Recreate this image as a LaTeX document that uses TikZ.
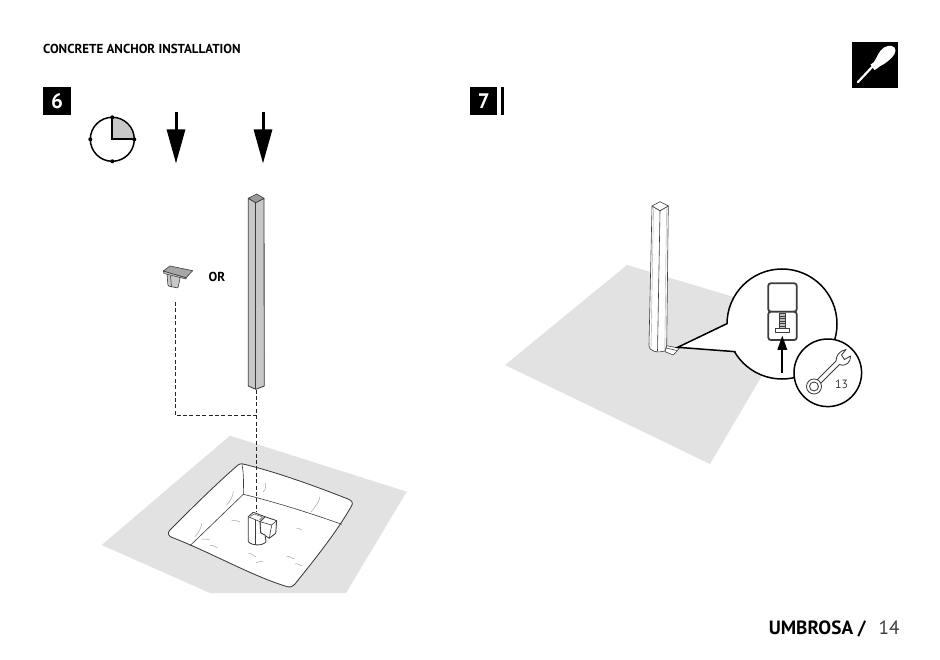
\documentclass[tikz,border=0pt]{standalone}
\usepackage{fontspec}
\setmainfont{PT Sans}
\usetikzlibrary{arrows.meta,positioning}
\definecolor{groundgray}{HTML}{E2E2E2}
\definecolor{postgray}{HTML}{C8C8C8}
\definecolor{linegray}{HTML}{3C3C3C}
\begin{document}
\begin{tikzpicture}[
    x=1pt, y=-1pt,
    stepbox/.style={rectangle, fill=black, text=white, minimum width=27.5pt, minimum height=27.5pt, inner sep=0pt, font=\fontsize{21}{21}\selectfont\bfseries},
    label/.style={inner sep=0pt, font=\fontsize{13}{13}\selectfont\bfseries},
    bigarrow/.style={-{Triangle[length=34pt,width=18pt]}, line width=3pt},
    guide/.style={dashed, dash pattern=on 4pt off 2.4pt, line width=1pt, black!85},
    ground/.style={fill=groundgray, draw=none},
    edge/.style={draw=linegray, line width=0.85pt, line join=round},
    thinedge/.style={draw=linegray, line width=0.6pt, line join=round},
    crack/.style={draw=black!35, line width=0.5pt},
    bubble/.style={circle, draw, fill=white, line width=1.5pt, inner sep=0pt}
]
\useasboundingbox (0,0) rectangle (940,660);
\fill[white] (0,0) rectangle (940,660);

% Header
\node[label, anchor=west] (title) at (43,48.5) {CONCRETE ANCHOR INSTALLATION};
\node[stepbox] (stepsix) at (57,101) {6};
\node[stepbox] (stepseven) at (483.7,101) {7};
\fill (500.7,87.3) rectangle (504.3,115);

% Screwdriver badge
\node[rectangle, fill=black, minimum width=45.7pt, minimum height=45.4pt, inner sep=0pt] (toolbadge) at (875.2,65) {};
\draw[white, line width=2.2pt, line cap=round] (858,82) -- (873,66);
\fill[white] (870.5,64.5) -- (873.5,62.5) .. controls (877,58) and (878.5,51) .. (884,47.5) .. controls (889,44.5) and (895.5,45.5) .. (895.5,50.5) .. controls (895.5,55) and (890,60) .. (884,64) .. controls (881,66) and (878.5,66.5) .. (877,68.5) -- (874.5,70) -- cycle;

% Clock
\coordinate (clock) at (112.3,139.3);
\fill[postgray] (clock) -- ++(0,-21) arc[start angle=-90, end angle=0, radius=21] -- cycle;
\draw[line width=1.5pt] (clock) circle[radius=22];
\draw[line width=2pt] (112.3,117.3) -- (clock) -- (134.3,139.3);
\foreach \tx/\ty in {112.3/117.3, 134.3/139.3, 112.3/161.3, 90.3/139.3}
    \fill (\tx,\ty) circle[radius=2];

% Arrows
\coordinate (arrowatop) at (176,112);
\coordinate (arrowaend) at (176,163.5);
\coordinate (arrowbtop) at (263,112);
\coordinate (arrowbend) at (263,163.5);
\draw[bigarrow] (arrowatop) -- (arrowaend);
\draw[bigarrow] (arrowbtop) -- (arrowbend);

% Step 6 ground and pit
\path[ground] (230,435.7) -- (406.7,491.7) -- (346,593) -- (210,593) -- (101.7,545) -- cycle;
\draw[edge, fill=white] (245,464.5) .. controls (280,473) and (320,488) .. (348,499) .. controls (352,500.5) and (353.5,503) .. (351.5,506) .. controls (335,535) and (310,565) .. (295,584) .. controls (292,587.5) and (289,587.5) .. (285,586) .. controls (250,575) and (210,552) .. (171,537) .. controls (168,535.5) and (167.5,532) .. (170,530) .. controls (190,510) and (215,485) .. (238,465) .. controls (241,463) and (243,464) .. (245,464.5) -- cycle;
\draw[thinedge] (242,464.5) .. controls (244,475) and (243.5,485) .. (243.3,494.3);
\draw[thinedge] (190,545.7) -- (243.3,494.3) .. controls (275,502) and (310,513) .. (341.7,524.3);
\foreach \ax/\ay/\bx/\by in {231.7/520.7/240/521.7, 296.7/528.3/301.7/530, 201.7/539.3/210/540, 210/545.7/217.3/547.7, 248.3/553.3/256/556.7, 256/562.7/263.3/561.7, 286.7/556.7/295/559, 295/564/302.3/566}
    \draw[crack] (\ax,\ay) .. controls +(3,-1.5) and +(-3,0) .. (\bx,\by);
\foreach \ax/\ay/\bx/\by in {226.7/505/233.3/491.7, 195/536.7/201.7/523.3, 263.3/491.7/265.7/482.7, 311/511.7/320/496.7}
    \draw[crack] (\ax,\ay) .. controls +(3,-3) and +(0,4) .. (\bx,\by);

% Step 6 dashed guides
\coordinate (capend) at (175,302);
\coordinate (guidecorner) at (175,415.7);
\coordinate (postend) at (256,389.5);
\coordinate (guidejoin) at (256,415.7);
\coordinate (sleevetop) at (256,512);
\draw[guide] (capend) -- (guidecorner) -- (guidejoin);
\draw[guide] (postend) -- (sleevetop);

% Step 6 anchor sleeve
\draw[edge, fill=white] (260,521.7) -- (265,516.7) -- (276.7,520.7) -- (275.7,533.3) -- (269.3,538.3) -- (260.7,533) -- cycle;
\draw[thinedge] (260,521.7) -- (271.7,525) -- (276.7,520.7);
\draw[thinedge] (271.7,525) -- (269.3,538.3);
\draw[edge, fill=white] (248.3,516.7) -- (253.3,512.3) -- (265,516.7) -- (260,521.7) -- (260.7,533) -- (265,535) -- (266,541.7) .. controls (263,546) and (252,546) .. (248.3,541.7) -- cycle;
\draw[thinedge] (248.3,516.7) -- (260,521.7);
\draw[thinedge] (255,519.5) -- (255,545);
\draw[thinedge, line width=0.4pt] (250.5,516.5) -- (254,514) -- (262.5,517) -- (259.5,520);

% Step 6 post
\draw[edge, fill=postgray] (248.3,198.3) -- (255.7,202.7) -- (264,198.3) -- (264.3,386) -- (255.7,389.3) -- (248.3,386) -- cycle;
\draw[thinedge, fill=black!40] (248.3,198.3) -- (256.7,194) -- (264,198.3) -- (255.7,202.7) -- cycle;
\draw[thinedge] (255.7,202.7) -- (255.7,389.3);

% Step 6 cap
\draw[thinedge, fill=postgray, rounded corners=1pt] (167,274) -- (168,286) -- (178,288) -- (180.5,276) -- cycle;
\draw[thinedge] (170.5,276) -- (171.5,287);
\draw[thinedge, fill=postgray] (163.3,271) -- (164,273.5) -- (186,279) -- (186,277.7) -- cycle;
\draw[thinedge, fill=black!35] (163.3,271) -- (170,266) -- (192.7,270.7) -- (186,277.7) -- cycle;
\node[label, anchor=west] (ortext) at (208.5,276.5) {OR};

% Step 7 ground and post
\path[ground] (627,265) -- (797,316) -- (710,464) -- (505,365) -- cycle;
\draw[thinedge, fill=white] (652,206) -- (660,210.7) -- (668.3,206) -- (666.7,346) -- (665,351) .. controls (658,353) and (649,352) .. (649,345) -- cycle;
\draw[thinedge, fill=white] (652,206) -- (660,201.7) -- (668.3,206) -- (660,210.7) -- cycle;
\draw[thinedge] (660,210.7) -- (657.5,351.5);
\draw[black!35, line width=0.4pt] (653.5,208) -- (651,349);
\draw[black!35, line width=0.4pt] (666.5,208) -- (664.8,350);
\draw[thinedge, fill=white] (666.7,345.7) -- (679.3,348.3) -- (673.3,355) -- (665,351.7) -- cycle;
\draw[thinedge] (666,348) -- (677,350.5);

% Detail bubble
\node[bubble, minimum size=110pt] (detail) at (782,324) {};
\coordinate (tailtip) at (677.7,347.3);
\coordinate (tailupper) at (727.7,323.3);
\coordinate (taillower) at (735.7,351.7);
\fill[white] (tailtip) -- (tailupper) -- (745,335) -- (taillower) -- cycle;
\draw[line width=1.5pt] (tailupper) -- (tailtip) -- (taillower);

% Bracket inside the bubble
\draw[draw=linegray, line width=1.8pt, fill=white, rounded corners=2.5pt] (768.3,283.3) rectangle (796.7,311.7);
\draw[draw=linegray, line width=1.8pt, fill=white, rounded corners=2.5pt] (768.3,311.7) rectangle (796.7,340);
\draw[thinedge, fill=black!25] (779,313.3) rectangle (785.7,328.3);
\foreach \ty in {316,318.5,321,323.5,326}
    \draw[linegray, line width=0.4pt] (779,\ty) -- (785.7,\ty);
\draw[thinedge, fill=white] (775.7,328.3) rectangle (789,332.3);
\coordinate (liftstart) at (782.3,372.7);
\coordinate (liftend) at (782.3,335.5);
\draw[-{Triangle[length=14.5pt,width=9.5pt]}, line width=2pt] (liftstart) -- (liftend);

% Wrench bubble
\node[bubble, minimum size=67.6pt] (wrenchbubble) at (827.8,372.8) {};
\draw[edge, fill=white] (817,380) -- (836,361) .. controls (836,356) and (839,351) .. (846,349.5) -- (841.5,355) -- (844.5,359.5) -- (850.5,356) .. controls (851,362) and (846,367) .. (839.5,364.5) -- (820.5,383.5) -- cycle;
\draw[edge, fill=white] (814,386.5) circle[radius=7.5];
\draw[edge, fill=white] (814,386.5) circle[radius=4.5];
\node[inner sep=0pt, font=\fontsize{12}{12}\selectfont, text=linegray] (wrenchsize) at (841.7,384.3) {13};

% Footer
\node[inner sep=0pt, anchor=base east, font=\fontsize{19.2}{20}\selectfont\bfseries] (brand) at (866,634.5) {UMBROSA /};
\node[inner sep=0pt, anchor=base west, font=\fontsize{19.2}{20}\selectfont, text=linegray] (pagenum) at (878.5,634.5) {14};
\end{tikzpicture}
\end{document}
